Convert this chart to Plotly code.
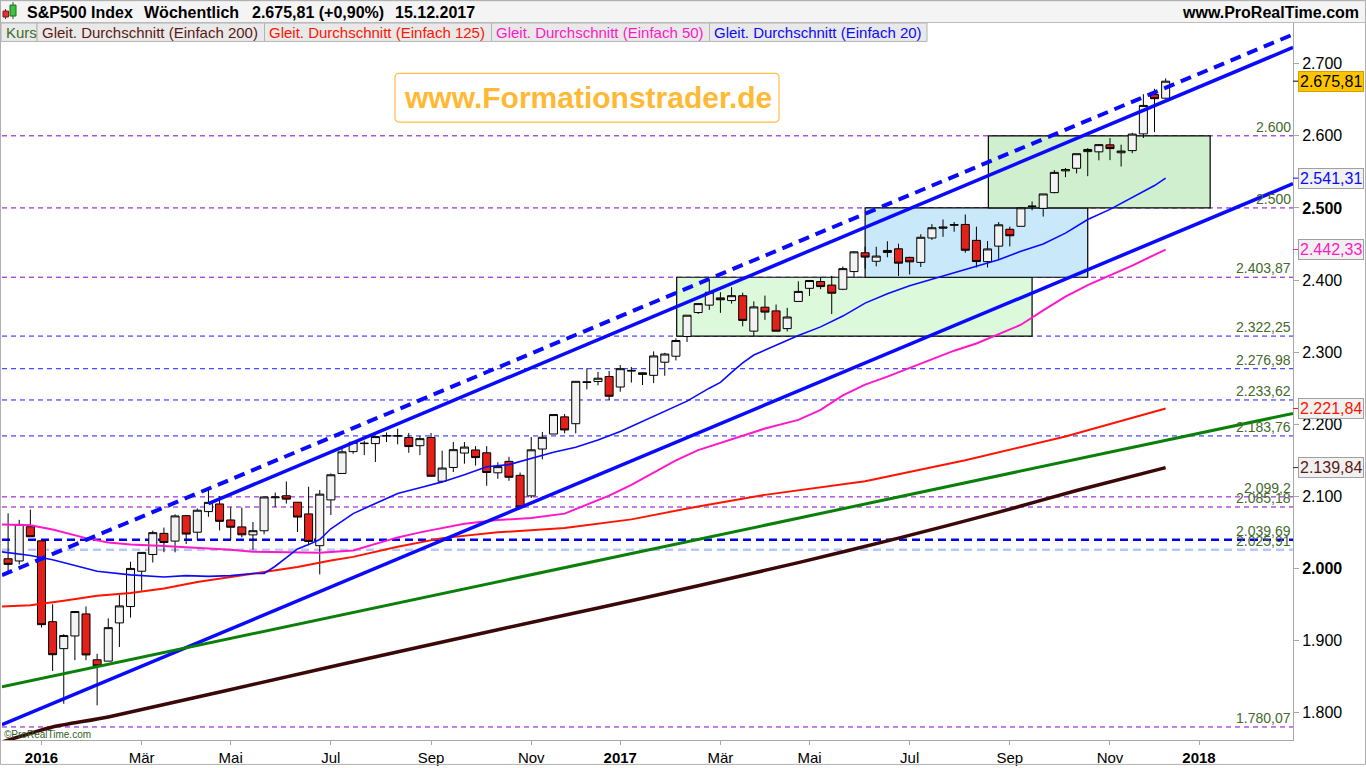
import plotly.graph_objects as go
import pandas as pd

# ---------------- data ----------------
candle_dates = pd.date_range("2015-12-14", periods=105, freq="7D")
opens = [2013.4, 2010.3, 2057.8, 2038.2, 1926.1, 1888.7, 1906.3, 1936.9, 1873.3, 1871.4, 1924.4, 1947.1, 1996.1, 2019.3, 2048.6, 2037.9, 2073.2, 2050.2, 2078.8, 2089.4, 2067.2, 2057.6, 2046.5, 2052.2, 2098.0, 2100.8, 2091.8, 2075.6, 2031.5, 2095.0, 2131.7, 2162.0, 2173.1, 2173.1, 2183.8, 2183.7, 2181.6, 2170.2, 2181.6, 2120.9, 2140.0, 2160.0, 2164.3, 2160.4, 2132.6, 2148.5, 2129.1, 2100.6, 2165.6, 2186.4, 2210.2, 2200.7, 2258.8, 2259.2, 2266.2, 2251.6, 2273.6, 2269.1, 2267.8, 2286.0, 2294.3, 2321.7, 2354.9, 2365.2, 2375.2, 2371.5, 2378.2, 2329.1, 2362.3, 2357.2, 2332.6, 2370.3, 2388.5, 2397.9, 2393.0, 2387.2, 2411.7, 2437.8, 2426.0, 2441.0, 2443.3, 2431.4, 2424.5, 2458.3, 2473.6, 2475.9, 2477.1, 2455.0, 2425.5, 2447.0, 2470.4, 2474.5, 2502.5, 2499.4, 2521.2, 2551.4, 2555.0, 2578.1, 2577.8, 2587.5, 2576.5, 2579.5, 2602.7, 2657.2, 2652.2]
highs = [2076.4, 2067.4, 2081.6, 2038.2, 1950.3, 1908.8, 1940.2, 1947.2, 1881.6, 1930.7, 1963.0, 2009.1, 2022.4, 2052.4, 2056.6, 2075.1, 2074.0, 2083.2, 2111.1, 2099.9, 2084.9, 2084.4, 2064.3, 2099.3, 2105.3, 2120.6, 2091.8, 2113.3, 2108.7, 2131.7, 2169.1, 2175.6, 2177.1, 2182.9, 2188.5, 2193.8, 2187.9, 2183.5, 2187.9, 2163.3, 2175.3, 2175.3, 2169.6, 2169.6, 2147.2, 2154.8, 2133.0, 2182.3, 2189.3, 2213.4, 2214.1, 2259.8, 2277.5, 2272.6, 2273.8, 2282.1, 2279.3, 2272.1, 2301.0, 2299.0, 2319.2, 2351.3, 2367.8, 2401.0, 2383.1, 2390.0, 2382.4, 2370.4, 2378.4, 2366.0, 2361.4, 2398.2, 2399.3, 2403.9, 2405.8, 2418.7, 2440.2, 2446.2, 2446.2, 2453.8, 2450.4, 2432.3, 2463.5, 2477.6, 2484.0, 2480.4, 2490.9, 2474.0, 2454.0, 2480.4, 2474.1, 2500.2, 2508.9, 2519.4, 2552.5, 2555.3, 2575.4, 2583.0, 2588.4, 2597.0, 2587.7, 2604.2, 2657.7, 2665.2, 2679.6]
lows = [1993.3, 2005.3, 2043.6, 1918.0, 1857.8, 1812.3, 1872.7, 1872.7, 1810.1, 1871.4, 1891.0, 1931.8, 1969.2, 2008.2, 2022.5, 2022.3, 2033.8, 2039.7, 2071.6, 2052.7, 2039.5, 2043.1, 2025.9, 2047.3, 2085.4, 2089.9, 2050.4, 2032.1, 1991.7, 2074.0, 2131.7, 2159.0, 2157.1, 2147.6, 2175.3, 2172.1, 2160.4, 2157.1, 2127.8, 2119.1, 2133.7, 2145.2, 2142.6, 2114.7, 2124.4, 2121.5, 2083.8, 2097.6, 2151.2, 2186.4, 2187.4, 2187.4, 2248.4, 2254.0, 2233.6, 2245.1, 2257.8, 2254.3, 2257.0, 2267.2, 2288.5, 2314.0, 2352.9, 2358.6, 2354.5, 2367.3, 2335.7, 2322.3, 2344.7, 2329.0, 2328.7, 2369.9, 2378.0, 2387.3, 2352.7, 2386.0, 2403.6, 2415.7, 2419.0, 2431.6, 2405.7, 2407.7, 2418.0, 2455.7, 2459.9, 2467.0, 2437.8, 2417.4, 2417.4, 2428.2, 2446.6, 2474.5, 2496.7, 2488.0, 2520.4, 2542.7, 2547.9, 2544.0, 2566.0, 2566.3, 2557.5, 2575.9, 2597.0, 2605.1, 2651.5]
closes = [2005.6, 2061.0, 2043.9, 1922.0, 1880.3, 1906.9, 1940.2, 1880.0, 1864.8, 1917.8, 1948.0, 2000.0, 2022.2, 2049.6, 2035.9, 2072.8, 2047.6, 2080.7, 2091.6, 2065.3, 2057.1, 2046.6, 2052.3, 2099.1, 2099.1, 2096.1, 2071.2, 2037.4, 2103.0, 2129.9, 2161.7, 2175.0, 2173.6, 2182.9, 2184.1, 2183.9, 2169.0, 2180.0, 2127.8, 2139.2, 2164.7, 2168.3, 2153.7, 2133.0, 2141.2, 2126.4, 2085.2, 2164.5, 2181.9, 2213.4, 2192.0, 2259.5, 2258.1, 2263.8, 2238.8, 2277.0, 2274.6, 2271.3, 2294.7, 2297.4, 2316.1, 2351.2, 2367.3, 2383.1, 2372.6, 2378.3, 2344.0, 2362.7, 2355.5, 2329.0, 2348.7, 2384.2, 2399.3, 2390.9, 2381.7, 2415.8, 2439.1, 2431.8, 2433.2, 2438.3, 2423.4, 2425.2, 2459.3, 2472.5, 2472.1, 2476.8, 2441.3, 2425.6, 2443.1, 2476.6, 2461.4, 2500.2, 2502.2, 2519.4, 2549.3, 2553.2, 2575.2, 2581.1, 2587.8, 2582.3, 2578.9, 2602.4, 2642.2, 2651.5, 2675.8]

sma20_dates = ["2015-12-10", "2015-12-28", "2016-01-11", "2016-01-25", "2016-02-08", "2016-02-29", "2016-03-21", "2016-04-04", "2016-04-18", "2016-05-02", "2016-05-16", "2016-05-23", "2016-05-30", "2016-06-06", "2016-06-13", "2016-06-20", "2016-06-27", "2016-07-04", "2016-07-18", "2016-08-01", "2016-08-15", "2016-08-29", "2016-09-12", "2016-09-26", "2016-10-10", "2016-10-24", "2016-11-07", "2016-11-21", "2016-12-05", "2016-12-19", "2017-01-02", "2017-01-16", "2017-01-30", "2017-02-13", "2017-02-27", "2017-03-06", "2017-03-13", "2017-03-20", "2017-03-27", "2017-04-10", "2017-04-24", "2017-05-08", "2017-05-22", "2017-06-05", "2017-06-19", "2017-07-03", "2017-07-17", "2017-07-31", "2017-08-14", "2017-08-28", "2017-09-11", "2017-09-25", "2017-10-09", "2017-10-23", "2017-11-06", "2017-11-20", "2017-12-04", "2017-12-11"]
sma20_values = [2023, 2018, 2012, 2004, 1996, 1991, 1988, 1990, 1989, 1990, 1993, 1993, 2003, 2015, 2027, 2033, 2040, 2055, 2076, 2090, 2104, 2112, 2120, 2130, 2141, 2144, 2153, 2161, 2168, 2178, 2190, 2204, 2217, 2232, 2250, 2258, 2272, 2285, 2296, 2310, 2323, 2335, 2350, 2368, 2381, 2392, 2401, 2409, 2418, 2428, 2440, 2450, 2465, 2484, 2498, 2515, 2531, 2541.3]

sma50_dates = ["2015-12-10", "2015-12-28", "2016-01-11", "2016-01-18", "2016-02-01", "2016-02-15", "2016-02-29", "2016-03-21", "2016-04-11", "2016-05-02", "2016-05-16", "2016-06-06", "2016-06-27", "2016-07-18", "2016-08-01", "2016-08-15", "2016-08-29", "2016-09-12", "2016-09-26", "2016-10-17", "2016-11-07", "2016-11-28", "2016-12-12", "2016-12-26", "2017-01-09", "2017-01-23", "2017-02-06", "2017-02-20", "2017-03-06", "2017-03-13", "2017-04-03", "2017-04-24", "2017-05-08", "2017-05-22", "2017-06-05", "2017-06-19", "2017-07-03", "2017-07-17", "2017-07-31", "2017-08-14", "2017-08-28", "2017-09-11", "2017-09-25", "2017-10-09", "2017-10-23", "2017-11-06", "2017-11-20", "2017-12-04", "2017-12-11"]
sma50_values = [2061, 2060, 2054, 2050, 2042, 2036, 2033, 2031, 2029, 2026, 2023, 2022, 2021.7, 2025, 2034, 2043, 2050, 2056, 2062, 2067, 2070, 2076, 2088, 2101, 2116, 2133, 2150, 2164, 2174, 2178, 2194, 2206, 2220, 2240, 2255, 2266, 2278, 2290, 2302, 2312, 2325, 2338, 2358, 2377, 2393, 2406, 2420, 2435, 2442.3]

sma125_dates = ["2015-12-10", "2015-12-28", "2016-01-18", "2016-02-08", "2016-02-29", "2016-03-21", "2016-04-11", "2016-05-02", "2016-05-23", "2016-06-13", "2016-07-04", "2016-07-18", "2016-08-15", "2016-09-12", "2016-10-17", "2016-11-28", "2017-01-09", "2017-02-20", "2017-04-03", "2017-06-05", "2017-08-07", "2017-10-09", "2017-12-11"]
sma125_values = [1947, 1949, 1955, 1962, 1966, 1972, 1981, 1988, 1994, 2002, 2011, 2016, 2030, 2042, 2050, 2056, 2068, 2086, 2102, 2121, 2150, 2183, 2221.8]

sma200_dates = ["2015-12-10", "2016-01-11", "2016-02-15", "2016-07-11", "2016-10-17", "2016-12-19", "2017-02-20", "2017-04-24", "2017-06-26", "2017-08-28", "2017-10-16", "2017-12-11"]
sma200_values = [1759, 1780, 1794, 1867, 1915, 1945, 1976, 2008, 2042, 2078, 2108, 2139.8]

trend_names = ["upper_dashed", "upper_solid", "lower_solid", "green"]
trend_x0 = ["2015-12-10 04:00", "2016-04-18", "2015-12-10 04:00", "2015-12-10 04:00"]
trend_y0 = [1990.6, 2090.0, 1783.2, 1835.8]
trend_x1 = ["2018-03-01 02:24", "2018-03-01 02:24", "2018-03-01 02:24", "2018-03-01 02:24"]
trend_y1 = [2740.6, 2722.6, 2533.6, 2215.0]

level_values = [2600, 2500, 2403.87, 2322.25, 2276.98, 2233.62, 2183.76, 2099.2, 2085.18, 2039.69, 2025.91, 1780.07]
level_labels = ["2.600", "2.500", "2.403,87", "2.322,25", "2.276,98", "2.233,62", "2.183,76", "2.099,2", "2.085,18", "2.039,69", "2.025,91", "1.780,07"]

box_x0 = ["2017-02-06 12:00", "2017-06-05", "2017-08-21 12:00"]
box_x1 = ["2017-09-18", "2017-10-23", "2018-01-08"]
box_y0 = [2322.25, 2403.87, 2500]
box_y1 = [2403.87, 2500, 2600]

tag_values = [2675.81, 2541.31, 2442.33, 2221.84, 2139.84]
tag_texts = ["2.675,81", "2.541,31", "2.442,33", "2.221,84", "2.139,84"]

y_tick_values = [1800, 1900, 2000, 2100, 2200, 2300, 2400, 2500, 2600, 2700]
y_tick_labels = ["1.800", "1.900", "<b>2.000</b>", "2.100", "2.200", "2.300", "2.400", "<b>2.500</b>", "2.600", "2.700"]
x_tick_dates = ["2016-01-04", "2016-03-07", "2016-05-02", "2016-07-04", "2016-09-05", "2016-11-07", "2017-01-02", "2017-03-06", "2017-05-01", "2017-07-03", "2017-09-04", "2017-11-06", "2018-01-01"]
x_tick_labels = ["<b>2016</b>", "Mär", "Mai", "Jul", "Sep", "Nov", "<b>2017</b>", "Mär", "Mai", "Jul", "Sep", "Nov", "<b>2018</b>"]

title_parts = ["S&P500 Index", "Wöchentlich", "2.675,81 (+0,90%)", "15.12.2017"]
legend_texts = ["Kurs", "Gleit. Durchschnitt (Einfach 200)", "Gleit. Durchschnitt (Einfach 125)", "Gleit. Durchschnitt (Einfach 50)", "Gleit. Durchschnitt (Einfach 20)"]

# ---------------- styles / layout geometry ----------------
FONT = "Liberation Sans, Arial, sans-serif"
W, H = 1366, 768
L, R, T, B = 2, 1293, 23, 743
x_range = ["2015-12-10 04:00", "2018-03-01 02:24"]
y_range = [1762.0, 2756.5]

def px(x):
    return (x - L) / (R - L)

def py(y):
    return (B - y) / (B - T)

C_BLUE = "#0a0aff"
C_MAG = "#ff18c8"
C_RED = "#ff1400"
C_BROWN = "#3a0808"
C_GREEN = "#0a800a"
C_PURPLE = "#8a00c8"
C_LABEL = "#44692c"

fig = go.Figure()

# candles
fig.add_trace(go.Candlestick(
    x=candle_dates, open=opens, high=highs, low=lows, close=closes,
    increasing=dict(fillcolor="#f3f3f3", line=dict(color="black", width=1)),
    decreasing=dict(fillcolor="#e3211b", line=dict(color="black", width=1)),
    whiskerwidth=0, hoverinfo="skip", name="Kurs"))

# moving averages
fig.add_trace(go.Scatter(x=sma200_dates, y=sma200_values, mode="lines",
                         line=dict(color=C_BROWN, width=3.5, shape="spline", smoothing=0.6), hoverinfo="skip"))
fig.add_trace(go.Scatter(x=sma125_dates, y=sma125_values, mode="lines",
                         line=dict(color=C_RED, width=2), hoverinfo="skip"))
fig.add_trace(go.Scatter(x=sma50_dates, y=sma50_values, mode="lines",
                         line=dict(color=C_MAG, width=2), hoverinfo="skip"))
fig.add_trace(go.Scatter(x=sma20_dates, y=sma20_values, mode="lines",
                         line=dict(color=C_BLUE, width=1.6), hoverinfo="skip"))

# trend lines
trend_styles = [dict(color=C_BLUE, width=4, dash="11px,7px"),
                dict(color=C_BLUE, width=3.5),
                dict(color=C_BLUE, width=3.5),
                dict(color=C_GREEN, width=3)]
for i in range(len(trend_names)):
    fig.add_trace(go.Scatter(x=[trend_x0[i], trend_x1[i]], y=[trend_y0[i], trend_y1[i]],
                             mode="lines", line=trend_styles[i], hoverinfo="skip"))

shapes = []
annotations = []

# boxes
box_fills = ["#dcf9dc", "#c9e9fb", "#cfefcf"]
for i in range(len(box_x0)):
    shapes.append(dict(type="rect", xref="x", yref="y", x0=box_x0[i], x1=box_x1[i],
                       y0=box_y0[i], y1=box_y1[i], fillcolor=box_fills[i],
                       line=dict(color="black", width=1.2), layer="below"))

# horizontal levels
level_styles = [
    dict(color=C_PURPLE, width=1, dash="5px,4px"),
    dict(color=C_PURPLE, width=1, dash="5px,4px"),
    dict(color=C_PURPLE, width=1, dash="5px,4px"),
    dict(color="#1a1aff", width=1, dash="5px,4px"),
    dict(color="#1a1aff", width=1, dash="5px,4px"),
    dict(color="#1a1aff", width=1, dash="5px,4px"),
    dict(color="#1a1aff", width=1, dash="5px,4px"),
    dict(color=C_PURPLE, width=1, dash="5px,4px"),
    dict(color=C_PURPLE, width=1, dash="5px,4px"),
    dict(color="#0000ee", width=2.5, dash="8px,5px"),
    dict(color="#b4c8ff", width=2.5, dash="8px,5px"),
    dict(color=C_PURPLE, width=1, dash="5px,4px"),
]
for i, v in enumerate(level_values):
    shapes.append(dict(type="line", xref="paper", yref="y", x0=0, x1=1, y0=v, y1=v,
                       line=level_styles[i], layer="below"))
    annotations.append(dict(xref="paper", yref="y", x=px(1292), y=v, xanchor="right",
                            yanchor="bottom", text=level_labels[i], showarrow=False,
                            font=dict(family=FONT, size=14, color=C_LABEL),
                            borderpad=0, yshift=0))

# header band
shapes.append(dict(type="rect", xref="paper", yref="paper", x0=px(0), x1=px(W),
                   y0=py(22.5), y1=py(0), fillcolor="#f4f4f4",
                   line=dict(width=0), layer="above"))
shapes.append(dict(type="line", xref="paper", yref="paper", x0=px(0), x1=px(W),
                   y0=py(22.5), y1=py(22.5), line=dict(color="#bdbdbd", width=1), layer="above"))
shapes.append(dict(type="line", xref="paper", yref="paper", x0=px(0), x1=px(W),
                   y0=py(0.5), y1=py(0.5), line=dict(color="#bdbdbd", width=1), layer="above"))
# icon
shapes.append(dict(type="line", xref="paper", yref="paper", x0=px(5.5), x1=px(5.5),
                   y0=py(19), y1=py(9), line=dict(color="#702020", width=1), layer="above"))
shapes.append(dict(type="rect", xref="paper", yref="paper", x0=px(3), x1=px(8.5),
                   y0=py(17), y1=py(11), fillcolor="#e53030", line=dict(color="#7a1a1a", width=1), layer="above"))
shapes.append(dict(type="line", xref="paper", yref="paper", x0=px(13), x1=px(13),
                   y0=py(19), y1=py(2), line=dict(color="#206020", width=1), layer="above"))
shapes.append(dict(type="rect", xref="paper", yref="paper", x0=px(10), x1=px(16),
                   y0=py(16), y1=py(5), fillcolor="#3fc23f", line=dict(color="#1e6a1e", width=1), layer="above"))

title_x = [25, 142, 250, 393]
for t, xx in zip(title_parts, title_x):
    annotations.append(dict(xref="paper", yref="paper", x=px(xx), y=py(12), xanchor="left",
                            yanchor="middle", text="<b>" + t + "</b>", showarrow=False,
                            font=dict(family=FONT, size=16, color="black")))
annotations.append(dict(xref="paper", yref="paper", x=px(1361), y=py(12), xanchor="right",
                        yanchor="middle", text="<b>www.ProRealTime.com</b>", showarrow=False,
                        font=dict(family=FONT, size=16, color="black")))

# legend row
leg_x0 = [1, 37, 264.5, 491.5, 709.5]
leg_x1 = [37, 264.5, 491.5, 709.5, 927]
leg_colors = ["#3c6e28", "#5a1a12", "#ff1400", "#ff18c8", "#0a0aff"]
for i, t in enumerate(legend_texts):
    shapes.append(dict(type="rect", xref="paper", yref="paper", x0=px(leg_x0[i]), x1=px(leg_x1[i]),
                       y0=py(41.5), y1=py(23), fillcolor="#e9e9e9",
                       line=dict(color="#b4b4b4", width=1), layer="above"))
    annotations.append(dict(xref="paper", yref="paper", x=px(leg_x0[i] + 2.5), y=py(32.5),
                            xanchor="left", yanchor="middle", text=t, showarrow=False,
                            font=dict(family=FONT, size=15, color=leg_colors[i])))

# watermark
wx0, wx1, wy0, wy1, rr = 395, 779, 73.5, 122.5, 4
path = (f"M {px(wx0+rr)},{py(wy0)} L {px(wx1-rr)},{py(wy0)} Q {px(wx1)},{py(wy0)} {px(wx1)},{py(wy0+rr)} "
        f"L {px(wx1)},{py(wy1-rr)} Q {px(wx1)},{py(wy1)} {px(wx1-rr)},{py(wy1)} "
        f"L {px(wx0+rr)},{py(wy1)} Q {px(wx0)},{py(wy1)} {px(wx0)},{py(wy1-rr)} "
        f"L {px(wx0)},{py(wy0+rr)} Q {px(wx0)},{py(wy0)} {px(wx0+rr)},{py(wy0)} Z")
shapes.append(dict(type="path", xref="paper", yref="paper", path=path, fillcolor="white",
                   line=dict(color="#ffbe45", width=1.2), layer="above"))
annotations.append(dict(xref="paper", yref="paper", x=px(587.5), y=py(98), xanchor="center",
                        yanchor="middle", text="<b>www.Formationstrader.de</b>", showarrow=False,
                        font=dict(family=FONT, size=30, color="#ffb935")))

# copyright
annotations.append(dict(xref="paper", yref="paper", x=px(2), y=py(737), xanchor="left",
                        yanchor="middle", text="©ProRealTime.com", showarrow=False,
                        font=dict(family=FONT, size=10, color="#2f5f1f")))

# price tags on axis
tag_fg = ["black", "#0a0aff", "#ff18c8", "#ff1400", "#5a1a12"]
tag_bg = ["#ffc400", "#f1f1f1", "#f1f1f1", "#f1f1f1", "#f1f1f1"]
tag_border = ["#d2a000", "#a0a0a0", "#a0a0a0", "#a0a0a0", "#a0a0a0"]
for i, v in enumerate(tag_values):
    shapes.append(dict(type="line", xref="paper", yref="y", x0=px(1293), x1=px(1298), y0=v, y1=v,
                       line=dict(color=tag_fg[i] if i else "black", width=1), layer="above"))
    annotations.append(dict(xref="paper", yref="y", x=px(1298), y=v, xanchor="left",
                            yanchor="middle", text=tag_texts[i], showarrow=False,
                            font=dict(family=FONT, size=16, color=tag_fg[i]),
                            bgcolor=tag_bg[i], bordercolor=tag_border[i], borderwidth=1, borderpad=1))

# outer frame
shapes.append(dict(type="rect", xref="paper", yref="paper", x0=px(0.5), x1=px(W - 0.5),
                   y0=py(H - 0.5), y1=py(0.5), line=dict(color="#b0b0b0", width=1),
                   fillcolor="rgba(0,0,0,0)", layer="above"))

fig.update_layout(
    width=W, height=H,
    margin=dict(l=L, r=W - R, t=T, b=H - B, pad=0),
    paper_bgcolor="white", plot_bgcolor="white",
    showlegend=False,
    shapes=shapes, annotations=annotations,
    boxgap=0.28, boxgroupgap=0,
    font=dict(family=FONT, color="black"),
    xaxis=dict(type="date", range=x_range, rangeslider=dict(visible=False),
               tickmode="array", tickvals=x_tick_dates, ticktext=x_tick_labels,
               ticks="outside", ticklen=4, tickcolor="#a8a8a8", showgrid=False,
               showline=True, linecolor="#a8a8a8", linewidth=1, zeroline=False,
               tickfont=dict(family=FONT, size=15, color="black")),
    yaxis=dict(side="right", range=y_range, tickmode="array", tickvals=y_tick_values,
               ticktext=y_tick_labels, ticks="outside", ticklen=5, tickcolor="#a8a8a8",
               showgrid=False, showline=True, linecolor="#a8a8a8", linewidth=1,
               zeroline=False, tickfont=dict(family=FONT, size=16, color="black")),
)

fig.write_html("out.html", config={"displayModeBar": False},
               post_script="document.body.style.margin='0';document.body.style.overflow='hidden';")
